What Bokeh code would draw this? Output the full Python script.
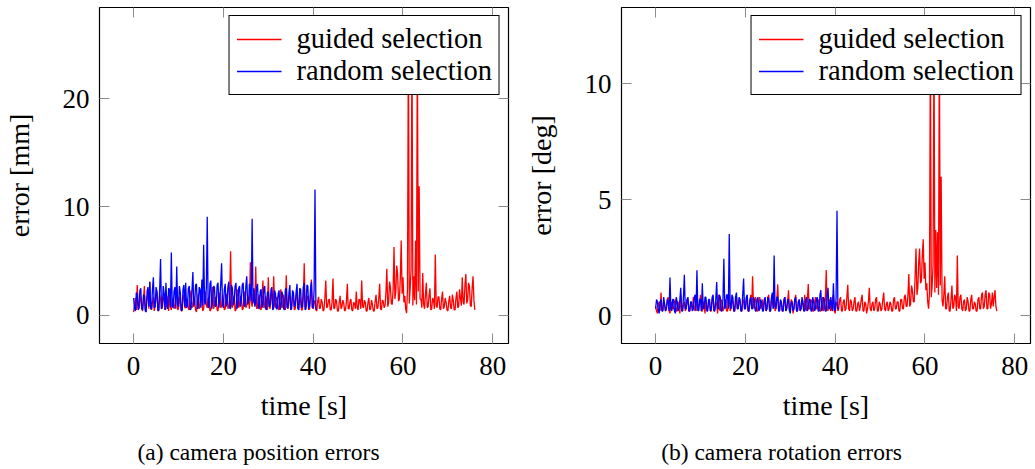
from bokeh.plotting import figure
from bokeh.models import LinearAxis, FixedTicker, Legend, LegendItem, Range1d, Div
from bokeh.layouts import row, column
from bokeh.embed import file_html
from bokeh.resources import INLINE

# ---------------- data ----------------
T_STEP = 0.2  # seconds between samples

# camera position error [mm], guided selection (t = 0 .. 76 s)
pos_guided = [
    0.3, 0.9, 1.6, 0.5, 2.8, 1.1, 0.6, 1.8, 1.4, 0.7, 0.4, 1.5, 2.7, 0.5, 0.8, 1.7, 1.9, 0.6, 3.1, 0.8,
    0.5, 1.2, 1.7, 0.4, 0.9, 1.6, 2.2, 0.7, 0.4, 1.9, 1.5, 0.6, 0.7, 1.4, 2.0, 0.5, 0.6, 1.8, 1.3, 0.4,
    2.1, 0.8, 0.5, 1.4, 1.6, 0.6, 0.8, 1.9, 2.4, 0.5, 0.6, 1.7, 1.2, 0.5, 0.4, 1.6, 1.9, 0.7, 0.7, 1.5,
    1.5, 0.6, 0.5, 1.8, 2.3, 0.7, 0.9, 1.6, 1.4, 0.5, 0.3, 1.3, 2.0, 0.6, 0.8, 1.9, 1.6, 0.4, 0.6, 1.7,
    2.2, 0.9, 0.7, 1.6, 1.3, 0.4, 0.5, 1.8, 2.6, 0.6, 0.9, 1.7, 1.5, 0.5, 0.4, 1.4, 2.1, 0.7, 0.8, 1.9,
    1.4, 0.5, 0.6, 1.7, 2.0, 0.6, 0.8, 1.5, 5.9, 0.9, 0.7, 1.6, 1.8, 0.4, 0.5, 1.9, 2.4, 0.7, 1.0, 1.8,
    1.6, 0.5, 0.6, 1.9, 2.2, 0.7, 0.9, 1.7, 1.5, 0.6, 4.9, 1.2, 0.8, 1.8, 2.3, 0.9, 4.5, 0.6, 0.7, 1.6,
    1.9, 0.6, 0.5, 1.5, 3.2, 0.7, 0.8, 1.8, 1.4, 0.5, 3.5, 0.8, 0.6, 1.7, 2.0, 0.5, 3.6, 0.9, 0.7, 1.6,
    1.7, 0.6, 0.5, 1.6, 2.4, 0.7, 0.8, 1.9, 1.3, 0.5, 3.7, 0.8, 0.6, 1.5, 1.9, 0.6, 0.9, 1.8, 1.5, 0.5,
    0.6, 1.7, 2.1, 0.6, 0.7, 1.9, 1.2, 0.5, 0.5, 1.6, 4.8, 0.7, 0.8, 1.6, 1.8, 0.5, 0.6, 1.7, 3.3, 0.8,
    0.6, 1.1, 1.4, 0.5, 0.4, 1.3, 1.7, 0.6, 0.7, 1.5, 1.2, 0.4, 0.5, 1.6, 3.2, 0.7, 0.8, 1.4, 1.5, 0.5,
    0.5, 1.2, 3.4, 0.6, 0.7, 1.5, 1.3, 0.4, 0.4, 1.2, 1.8, 0.6, 0.8, 1.4, 1.1, 0.4, 0.5, 1.3, 2.9, 0.6,
    0.6, 1.3, 1.5, 0.5, 0.4, 1.2, 1.1, 0.6, 2.2, 0.7, 0.5, 1.5, 1.4, 0.6, 3.2, 0.8, 0.7, 1.4, 1.2, 0.4,
    0.4, 1.2, 1.6, 0.5, 0.6, 1.4, 1.0, 0.4, 0.4, 1.3, 1.9, 0.6, 0.7, 1.5, 2.9, 0.6, 0.5, 1.4, 1.3, 0.7,
    0.9, 2.1, 4.3, 0.8, 1.2, 3.1, 2.6, 1.1, 1.0, 2.4, 6.3, 1.5, 2.2, 4.6, 3.8, 1.3, 1.5, 3.4, 6.9, 2.0,
    3.5, 1.2, 1.8, 0.6, 0.2, 2.4, 26.0, 1.1, 2.5, 4.2, 26.0, 0.9, 3.6, 1.4, 6.9, 1.0, 26.0, 2.2, 11.9, 1.5,
    1.5, 0.7, 3.9, 1.0, 0.6, 1.9, 3.0, 0.7, 0.8, 1.8, 2.5, 0.5, 0.6, 1.6, 1.4, 0.6, 5.6, 0.9, 0.7, 1.7,
    1.7, 0.6, 0.5, 1.5, 2.2, 0.6, 0.8, 1.6, 1.2, 0.5, 0.4, 1.3, 1.8, 0.7, 0.6, 1.9, 1.4, 0.5, 0.5, 1.6,
    2.2, 0.7, 0.8, 2.4, 1.6, 0.9, 3.5, 1.2, 1.0, 2.8, 3.8, 1.1, 1.4, 3.0, 2.7, 0.9, 0.8, 2.5, 3.6, 1.4,
    0.5,
]

# camera position error [mm], random selection (t = 0 .. 40.8 s)
pos_random = [
    1.6, 0.6, 0.4, 2.1, 1.9, 0.5, 0.7, 2.3, 2.5, 0.6, 0.5, 1.9, 1.8, 0.4, 0.3, 2.2, 2.6, 0.8, 3.1, 0.6,
    0.6, 2.4, 3.5, 0.7, 0.8, 2.6, 2.2, 0.4, 0.5, 2.3, 5.2, 0.6, 0.9, 2.7, 2.0, 0.5, 3.0, 0.9, 0.6, 2.5,
    2.4, 0.7, 5.8, 0.9, 0.7, 2.2, 2.6, 0.6, 4.5, 1.0, 0.8, 2.7, 2.1, 0.4, 0.5, 2.4, 2.8, 0.8, 3.0, 0.7,
    0.9, 2.5, 2.7, 0.5, 0.6, 2.3, 4.0, 0.8, 1.1, 2.8, 2.9, 0.6, 0.7, 2.6, 2.4, 0.7, 3.3, 0.9, 6.5, 1.2,
    1.0, 2.6, 9.1, 0.7, 0.8, 2.9, 3.2, 0.6, 1.2, 2.7, 2.6, 0.8, 0.9, 2.8, 3.0, 0.7, 1.4, 2.9, 4.8, 0.9,
    0.7, 2.4, 2.9, 0.8, 1.1, 2.6, 3.1, 0.7, 0.6, 2.8, 2.5, 0.9, 1.3, 2.7, 3.0, 0.6, 0.9, 2.5, 2.7, 0.8,
    1.4, 2.8, 3.0, 0.9, 0.8, 2.7, 3.6, 1.0, 1.2, 2.9, 2.2, 1.3, 8.9, 1.1, 2.5, 0.8, 1.1, 2.6, 2.9, 0.7,
    0.6, 2.2, 2.4, 0.7, 1.0, 2.5, 2.7, 0.6, 0.5, 2.1, 2.2, 0.8, 0.9, 2.4, 2.6, 0.5, 0.7, 2.3, 2.0, 0.6,
    0.6, 2.0, 2.3, 0.5, 0.8, 2.2, 1.9, 0.6, 0.5, 2.4, 2.5, 0.7, 0.7, 2.1, 2.8, 0.5, 0.6, 2.3, 2.1, 0.8,
    0.9, 2.2, 2.9, 0.6, 0.5, 2.5, 2.4, 0.7, 0.8, 2.6, 3.0, 0.5, 0.6, 2.8, 2.7, 0.6, 0.9, 2.4, 3.1, 0.7,
    0.7, 2.3, 11.6, 0.6, 0.5,
]

# camera rotation error [deg], guided selection (t = 0 .. 76 s)
rot_guided = [
    0.4, 0.2, 0.1, 0.5, 0.6, 0.2, 1.0, 0.3, 0.2, 0.6, 0.5, 0.2, 0.3, 0.7, 0.8, 0.2, 0.1, 0.5, 0.6, 0.3,
    0.3, 0.6, 0.7, 0.2, 0.2, 0.6, 0.5, 0.1, 0.9, 0.3, 0.2, 0.5, 0.6, 0.2, 0.3, 0.7, 0.7, 0.2, 0.2, 0.5,
    0.5, 0.2, 0.8, 0.3, 0.2, 0.7, 0.6, 0.2, 0.3, 0.6, 0.9, 0.2, 0.2, 0.6, 0.5, 0.1, 0.7, 0.3, 0.3, 0.6,
    0.6, 0.2, 0.2, 0.7, 0.8, 0.2, 0.3, 0.6, 0.5, 0.1, 0.9, 0.3, 0.2, 0.7, 0.6, 0.2, 0.3, 0.6, 0.7, 0.2,
    0.2, 0.6, 0.9, 0.2, 0.3, 0.7, 0.6, 0.2, 0.2, 0.5, 0.8, 0.3, 0.4, 0.7, 0.6, 0.2, 0.2, 0.6, 0.7, 0.3,
    0.3, 0.7, 0.6, 0.2, 0.2, 0.6, 0.9, 0.3, 1.7, 0.4, 0.3, 0.8, 0.7, 0.2, 0.2, 0.6, 0.8, 0.3, 0.4, 0.7,
    0.2, 0.6, 0.7, 0.2, 0.3, 0.8, 0.9, 0.2, 0.2, 0.7, 0.6, 0.3, 1.0, 0.2, 0.3, 0.7, 1.35, 0.3, 0.2, 0.6,
    0.6, 0.2, 0.2, 0.7, 0.8, 0.2, 0.3, 0.6, 1.1, 0.3, 0.2, 0.7, 0.6, 0.1, 0.3, 0.7, 0.9, 0.2, 0.2, 0.6,
    0.7, 0.2, 0.3, 0.6, 0.5, 0.2, 0.9, 0.3, 0.2, 0.7, 1.37, 0.3, 0.3, 0.7, 0.6, 0.2, 0.2, 0.6, 0.8, 0.3,
    0.3, 0.7, 0.6, 0.2, 0.2, 0.6, 0.8, 0.2, 0.3, 0.7, 1.97, 0.3, 0.2, 0.6, 0.7, 0.2, 0.3, 0.8, 0.9, 0.2,
    0.1, 0.5, 0.6, 0.2, 0.3, 0.7, 0.8, 0.2, 0.2, 0.6, 0.7, 0.2, 0.3, 0.8, 1.33, 0.3, 0.2, 0.7, 0.6, 0.2,
    0.3, 0.6, 0.8, 0.2, 0.2, 0.5, 0.6, 0.2, 0.4, 0.7, 0.9, 0.2, 0.2, 0.6, 0.5, 0.1, 0.3, 0.6, 1.2, 0.3,
    0.2, 0.5, 0.6, 0.2, 0.3, 0.7, 0.8, 0.2, 0.2, 0.6, 0.5, 0.2, 0.3, 0.7, 1.0, 0.3, 0.2, 0.5, 0.6, 0.2,
    0.3, 0.6, 0.5, 0.2, 0.2, 0.7, 0.8, 0.3, 0.3, 0.6, 0.6, 0.2, 0.2, 0.7, 0.7, 0.3, 0.3, 0.8, 0.9, 0.4,
    0.4, 0.9, 1.8, 0.4, 0.5, 1.3, 1.1, 0.6, 0.6, 1.7, 2.9, 0.9, 1.2, 2.3, 2.9, 1.4, 1.5, 2.6, 3.3, 1.6,
    2.3, 1.1, 1.4, 0.6, 0.3, 1.0, 12.0, 0.8, 1.3, 2.2, 12.0, 1.0, 3.7, 1.2, 3.6, 0.9, 12.0, 1.3, 6.0, 0.7,
    0.4, 0.9, 1.7, 0.3, 0.3, 0.8, 1.0, 0.2, 0.2, 0.7, 1.3, 0.3, 0.4, 0.9, 0.8, 0.2, 2.6, 0.4, 0.3, 0.8,
    0.9, 0.3, 0.2, 0.6, 0.7, 0.2, 0.3, 0.8, 0.6, 0.2, 0.2, 0.7, 0.9, 0.3, 0.3, 0.6, 0.5, 0.2, 0.2, 0.7,
    0.8, 0.3, 0.3, 0.9, 1.0, 0.3, 0.4, 0.9, 1.1, 0.3, 0.3, 1.0, 0.9, 0.3, 0.5, 1.0, 0.4, 0.8, 1.1, 0.4,
    0.2,
]

# camera rotation error [deg], random selection (t = 0 .. 40.8 s)
rot_random = [
    0.3, 0.7, 0.6, 0.2, 0.1, 0.6, 0.7, 0.2, 0.2, 0.8, 0.5, 0.2, 0.3, 0.7, 0.6, 0.2, 1.65, 0.3, 0.2, 0.7,
    0.7, 0.2, 0.1, 0.8, 0.6, 0.2, 0.3, 0.7, 1.2, 0.2, 0.2, 0.8, 1.77, 0.3, 0.3, 0.7, 0.8, 0.2, 0.2, 0.6,
    0.6, 0.2, 0.3, 0.8, 0.9, 0.2, 1.96, 0.3, 0.2, 0.7, 0.7, 0.2, 1.4, 0.3, 0.3, 0.8, 0.8, 0.2, 0.2, 0.7,
    0.7, 0.2, 0.3, 0.8, 0.9, 0.2, 0.2, 0.7, 1.45, 0.3, 0.3, 0.9, 0.8, 0.2, 0.2, 0.7, 2.46, 0.3, 0.4, 0.9,
    0.9, 0.3, 3.52, 0.4, 0.3, 0.9, 0.8, 0.2, 0.2, 0.8, 1.0, 0.3, 0.3, 0.8, 0.7, 0.2, 0.2, 0.9, 1.6, 0.3,
    0.3, 0.8, 0.9, 0.2, 0.2, 0.7, 0.8, 0.3, 0.3, 0.8, 0.7, 0.2, 0.2, 0.7, 0.8, 0.2, 0.3, 0.7, 0.6, 0.2,
    0.2, 0.7, 0.8, 0.2, 0.3, 0.8, 0.7, 0.2, 0.2, 0.8, 1.0, 0.3, 2.6, 0.4, 0.3, 0.8, 0.8, 0.2, 0.2, 0.7,
    0.6, 0.2, 0.2, 0.7, 0.8, 0.2, 0.3, 0.7, 0.7, 0.2, 0.1, 0.6, 0.6, 0.2, 0.3, 0.7, 0.8, 0.2, 0.2, 0.6,
    0.7, 0.2, 0.3, 0.8, 0.6, 0.2, 0.2, 0.7, 0.8, 0.2, 0.3, 0.7, 0.7, 0.2, 0.2, 0.8, 0.6, 0.2, 0.3, 0.7,
    0.8, 0.2, 0.2, 0.9, 1.1, 0.2, 0.3, 0.8, 0.7, 0.2, 0.2, 0.9, 1.2, 0.3, 0.3, 0.8, 0.5, 0.2, 1.4, 0.3,
    0.2, 0.8, 4.53, 0.3, 0.3,
]

x_ticks = [0, 20, 40, 60, 80]
pos_y_ticks = [0, 10, 20]
rot_y_ticks = [0, 5, 10]
series_labels = ["guided selection", "random selection"]
captions = ["(a) camera position errors", "(b) camera rotation errors"]
y_labels = ["error [mm]", "error [deg]"]
x_label = "time [s]"


def times(values):
    return [round(i * T_STEP, 2) for i in range(len(values))]


FONT = "Liberation Serif"
TICK_COLOR = "#8c8c8c"
FIG_H = 423


def style_axis(ax, ticks, show_labels=True):
    ax.ticker = FixedTicker(ticks=ticks)
    ax.major_tick_in = 10
    ax.major_tick_out = 0
    ax.minor_tick_line_color = None
    ax.major_tick_line_color = TICK_COLOR
    ax.major_tick_line_width = 1
    ax.axis_line_color = None
    ax.major_label_text_font = FONT
    ax.major_label_text_color = "black"
    ax.axis_label_text_color = "black"
    ax.axis_label_text_font = FONT
    ax.axis_label_text_font_size = "28px"
    ax.axis_label_text_font_style = "normal"
    if show_labels:
        ax.major_label_text_font_size = "27px"
    else:
        ax.major_label_overrides = {t: "" for t in ticks}
        ax.major_label_text_font_size = "1px"
        ax.major_label_standoff = 0


def make_panel(width, border_left, border_right, y_range, y_ticks, y_label,
               guided, random):
    p = figure(width=width, height=FIG_H,
               x_range=Range1d(-7.6, 83.5), y_range=Range1d(*y_range),
               output_backend="svg", toolbar_location=None,
               min_border_left=border_left, min_border_right=border_right,
               min_border_top=7, min_border_bottom=0)
    p.grid.visible = False
    p.outline_line_color = "black"
    p.outline_line_width = 1.2
    p.outline_line_alpha = 1
    p.background_fill_color = "white"
    p.border_fill_color = "white"

    r1 = p.line(times(guided), guided, line_color="#ff0000", line_width=1.3)
    r2 = p.line(times(random), random, line_color="#0000ff", line_width=1.3)

    style_axis(p.xaxis[0], x_ticks)
    p.xaxis.major_label_standoff = 13
    p.xaxis.axis_label = x_label
    p.xaxis.axis_label_standoff = 12

    style_axis(p.yaxis[0], y_ticks)
    p.yaxis.major_label_standoff = 10
    p.yaxis.axis_label = y_label
    p.yaxis.axis_label_standoff = 25

    top = LinearAxis()
    style_axis(top, x_ticks, show_labels=False)
    p.add_layout(top, "above")
    right = LinearAxis()
    style_axis(right, y_ticks, show_labels=False)
    p.add_layout(right, "right")

    legend = Legend(items=[LegendItem(label=series_labels[0], renderers=[r1]),
                           LegendItem(label=series_labels[1], renderers=[r2])],
                    location="top_right", margin=8, padding=7, spacing=0,
                    glyph_width=45, glyph_height=28, label_height=28,
                    label_standoff=15,
                    label_text_font=FONT, label_text_font_size="28.5px",
                    label_text_color="black",
                    border_line_color="black", border_line_width=1,
                    border_line_alpha=1,
                    background_fill_color="white", background_fill_alpha=1)
    p.add_layout(legend)
    return p


def caption_div(text, width, indent):
    return Div(text=text, width=width, height=469 - FIG_H,
               styles={"font-family": FONT, "font-size": "23.5px",
                       "color": "black", "text-align": "center",
                       "text-indent": f"{indent}px",
                       "padding-top": "16px", "line-height": "26px",
                       "margin": "0px"})


p1 = make_panel(517, 99, 9, (-2.6, 28.4), pos_y_ticks, y_labels[0],
                pos_guided, pos_random)
p2 = make_panel(518, 104, 5, (-1.2, 13.3), rot_y_ticks, y_labels[1],
                rot_guided, rot_random)
d1 = caption_div(captions[0], 517, 0)
d2 = caption_div(captions[1], 518, 11)

layout = column(row(p1, p2), row(d1, d2))
open("out.html", "w").write(file_html(layout, INLINE))
